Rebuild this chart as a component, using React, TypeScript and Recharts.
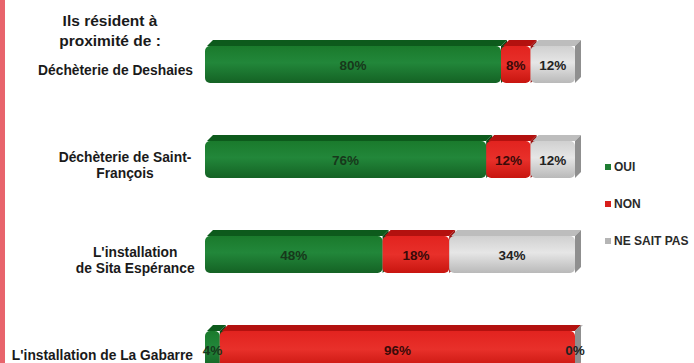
import React from 'react';
import { BarChart, Bar, XAxis, YAxis, LabelList } from 'recharts';

const categories = [
  'Déchèterie de Deshaies',
  'Déchèterie de Saint-\nFrançois',
  "L'installation\nde Sita Espérance",
  "L'installation de La Gabarre",
];
const oui = [80, 76, 48, 4];
const non = [8, 12, 18, 96];
const nsp = [12, 12, 34, 0];
const seriesNames = ['OUI', 'NON', 'NE SAIT PAS'];

const data = categories.map((name, i) => ({ name, oui: oui[i], non: non[i], nsp: nsp[i] }));

const FONT = '"Liberation Sans", Arial, sans-serif';
const DEPTH = 6;

const palette: Record<string, { front: string; top: string; side: string; text: string; marker: string }> = {
  oui: { front: 'url(#gOui)', top: '#0d5a1c', side: '#0b4a17', text: '#17381b', marker: '#1e7d32' },
  non: { front: 'url(#gNon)', top: '#b3110f', side: '#9a0d0c', text: '#3a0a08', marker: '#d81e1b' },
  nsp: { front: 'url(#gNsp)', top: '#bdbdbd', side: '#8f8f8f', text: '#222222', marker: '#b5b5b5' },
};

const make3DShape = (key: string) => (props: any) => {
  const { x, y, width, height } = props;
  const c = palette[key];
  const d = DEPTH;
  const w = Math.max(width, 0);
  return (
    <g>
      <polygon
        points={`${x + 2},${y + d} ${x + d + 2},${y} ${x + w + d},${y} ${x + w},${y + d}`}
        fill={c.top}
      />
      <polygon
        points={`${x + w},${y + d} ${x + w + d},${y} ${x + w + d},${y + height - d} ${x + w},${y + height}`}
        fill={c.side}
      />
      {w > 0 && <rect x={x} y={y + d} width={w} height={height - d} rx={5} ry={5} fill={c.front} />}
    </g>
  );
};

const makeValueLabel = (key: string) => (props: any) => {
  const { x, y, width, height, value } = props;
  const cy = y + DEPTH + (height - DEPTH) / 2;
  return (
    <text
      x={x + width / 2}
      y={cy}
      dy={5}
      textAnchor="middle"
      fontFamily={FONT}
      fontWeight="bold"
      fontSize={13.5}
      fill={palette[key].text}
    >
      {value}%
    </text>
  );
};

const CategoryTick = (props: any) => {
  const { y, payload } = props;
  const lines: string[] = String(payload.value).split('\n');
  const rightEdge = 193;
  const maxLen = Math.max(...lines.map((l) => l.length));
  const center = rightEdge - (maxLen * 6.8) / 2;
  const lineH = 16;
  const startY = y + 8 - ((lines.length - 1) * lineH) / 2;
  return (
    <g>
      {lines.map((line, i) => (
        <text
          key={i}
          x={lines.length > 1 ? center : rightEdge}
          y={startY + i * lineH}
          dy={5}
          textAnchor={lines.length > 1 ? 'middle' : 'end'}
          fontFamily={FONT}
          fontWeight="bold"
          fontSize={13.8}
          fill="#1a1a1a"
        >
          {line}
        </text>
      ))}
    </g>
  );
};

const ChartLegend = () => (
  <div
    style={{
      position: 'absolute',
      left: 605,
      top: 148,
      fontFamily: FONT,
      fontWeight: 'bold',
      fontSize: 12,
      color: '#2a2a2a',
    }}
  >
    {['oui', 'non', 'nsp'].map((k, i) => (
      <div key={k} style={{ display: 'flex', alignItems: 'center', height: 37 }}>
        <span style={{ display: 'inline-block', width: 6, height: 6, background: palette[k].marker, marginRight: 3 }} />
        <span>{seriesNames[i]}</span>
      </div>
    ))}
  </div>
);

export default function App() {
  return (
    <div style={{ position: 'absolute', left: 0, top: 0, width: 694, height: 363, overflow: 'hidden', background: '#fff' }}>
      <div style={{ position: 'absolute', left: 0, top: 0, width: 5, height: 363, background: '#e8646c' }} />
      <div
        style={{
          position: 'absolute',
          left: 40,
          top: 11,
          width: 140,
          textAlign: 'center',
          fontFamily: FONT,
          fontWeight: 'bold',
          fontSize: 15.5,
          lineHeight: '20px',
          color: '#1a1a1a',
        }}
      >
        Ils résident à<br />proximité de :
      </div>
      <BarChart
        width={694}
        height={394}
        data={data}
        layout="vertical"
        margin={{ top: 14, right: 119, bottom: 0, left: 0 }}
        barSize={43}
      >
        <defs>
          <linearGradient id="gOui" x1="0" y1="0" x2="0" y2="1">
            <stop offset="0%" stopColor="#1a7a2c" />
            <stop offset="45%" stopColor="#22873a" />
            <stop offset="100%" stopColor="#146224" />
          </linearGradient>
          <linearGradient id="gNon" x1="0" y1="0" x2="0" y2="1">
            <stop offset="0%" stopColor="#e2231f" />
            <stop offset="50%" stopColor="#e8302a" />
            <stop offset="100%" stopColor="#c8150f" />
          </linearGradient>
          <linearGradient id="gNsp" x1="0" y1="0" x2="0" y2="1">
            <stop offset="0%" stopColor="#d0d0d0" />
            <stop offset="45%" stopColor="#e6e6e6" />
            <stop offset="100%" stopColor="#b9b9b9" />
          </linearGradient>
        </defs>
        <XAxis type="number" domain={[0, 100]} hide />
        <YAxis
          type="category"
          dataKey="name"
          width={205}
          axisLine={false}
          tickLine={false}
          interval={0}
          tick={<CategoryTick />}
        />
        <Bar dataKey="oui" stackId="a" name="OUI" shape={make3DShape('oui')} isAnimationActive={false}>
          <LabelList dataKey="oui" content={makeValueLabel('oui')} />
        </Bar>
        <Bar dataKey="non" stackId="a" name="NON" shape={make3DShape('non')} isAnimationActive={false}>
          <LabelList dataKey="non" content={makeValueLabel('non')} />
        </Bar>
        <Bar dataKey="nsp" stackId="a" name="NE SAIT PAS" shape={make3DShape('nsp')} isAnimationActive={false}>
          <LabelList dataKey="nsp" content={makeValueLabel('nsp')} />
        </Bar>
      </BarChart>
      <ChartLegend />
    </div>
  );
}
